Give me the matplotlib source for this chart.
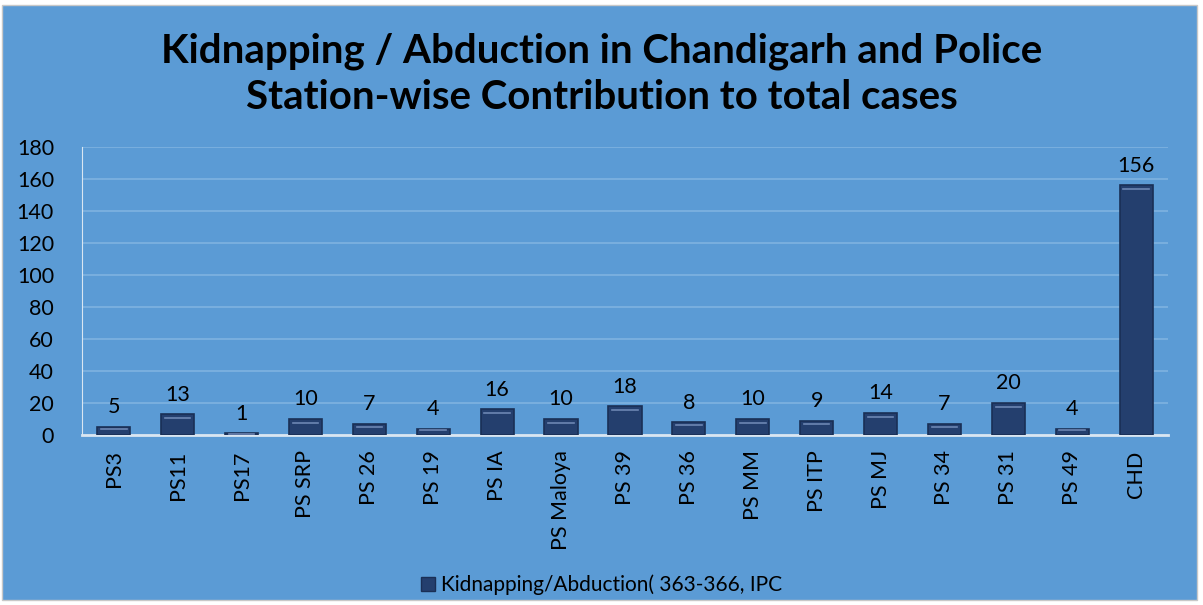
import matplotlib.pyplot as plt
from matplotlib.patches import Rectangle, Patch
import numpy as np

stations = ["PS3", "PS11", "PS17", "PS SRP", "PS 26", "PS 19", "PS IA", "PS Maloya",
            "PS 39", "PS 36", "PS MM", "PS ITP", "PS MJ", "PS 34", "PS 31", "PS 49", "CHD"]
cases = [5, 13, 1, 10, 7, 4, 16, 10, 18, 8, 10, 9, 14, 7, 20, 4, 156]
series_name = "Kidnapping/Abduction( 363-366, IPC"

bg = "#5b9bd5"
bar_col = "#243f6e"
plt.rcParams['font.family'] = ['Lato', 'DejaVu Sans']

fig = plt.figure(figsize=(12.03, 6.05), dpi=100)
fig.patch.set_facecolor("white")
fig.patches.append(Rectangle((0.002, 0.008), 0.993, 0.984, transform=fig.transFigure,
                             facecolor=bg, edgecolor="#c8c8c8", lw=1, zorder=-5))

ax = fig.add_axes([0.068, 0.281, 0.903, 0.476])
ax.set_facecolor(bg)
x = np.arange(len(stations))
bars = ax.bar(x, cases, width=0.52, color=bar_col, edgecolor="#1a2f55", lw=1.2, zorder=3)
# light bevel on the top of each bar
for xi, v in zip(x, cases):
    ax.plot([xi - 0.2, xi + 0.2], [v - min(v * 0.25, 2.5)] * 2, color="#6d86b3", lw=1.2, zorder=4)
for xi, v in zip(x, cases):
    ax.text(xi, v + 6, str(v), ha="center", va="bottom", fontsize=15.5, color="black", zorder=5)

ax.set_ylim(0, 180)
ax.set_yticks(range(0, 181, 20))
ax.set_xlim(-0.5, len(stations) - 0.5)
ax.set_xticks(x)
ax.set_xticklabels(stations, rotation=90, fontsize=15.5)
ax.tick_params(axis="y", labelsize=15.5, length=0, pad=20)
ax.tick_params(axis="x", length=0, pad=11)
ax.grid(axis="y", color="#7fb2e0", lw=1.2, zorder=1)
for s in ["top", "right"]:
    ax.spines[s].set_visible(False)
ax.spines["left"].set_color("#d9e6f2")
ax.spines["bottom"].set_color("#d9e6f2")
ax.spines["bottom"].set_linewidth(2)

fig.text(0.5, 0.877, "Kidnapping / Abduction in Chandigarh and Police\nStation-wise Contribution to total cases",
         ha="center", va="center", fontsize=29, fontweight="bold", linespacing=1.3)

ax.legend(handles=[Patch(facecolor=bar_col, edgecolor="#1a2f55", label=series_name)],
          loc="center", bbox_to_anchor=(0.5, 0.033), bbox_transform=fig.transFigure,
          frameon=False, fontsize=15, handlelength=0.7, handleheight=0.7, handletextpad=0.3)

fig.savefig("out.png", dpi=100, facecolor=fig.get_facecolor())
